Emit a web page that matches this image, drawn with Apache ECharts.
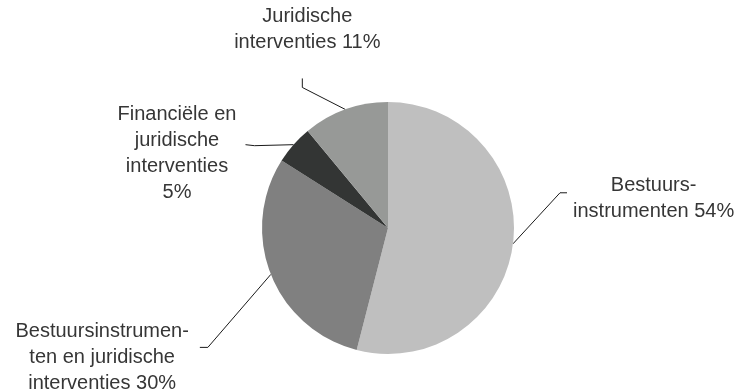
<!DOCTYPE html>
<html><head><meta charset="utf-8">
<script src="https://cdn.jsdelivr.net/npm/echarts@6/dist/echarts.min.js"></script>
<style>html,body{margin:0;padding:0;background:#fff}#c{width:738px;height:390px}</style>
</head><body><div id="c"></div>
<script>
const categories = ['Bestuursinstrumenten', 'Bestuursinstrumenten en juridische interventies', 'Financiële en juridische interventies', 'Juridische interventies'];
const values = [54, 30, 5, 11];
const labelTexts = ['Bestuurs-\ninstrumenten ', 'Bestuursinstrumen-\nten en juridische\ninterventies ', 'Financiële en\njuridische\ninterventies\n', 'Juridische\ninterventies '];
const colors = ['#bfbfbf', '#808080', '#333534', '#979997'];

// leader-line shape, relative to the slice's edge point
const guides = [
  { bend: [47, -51], tail: [7, 0], anchor: 'left', gap: [6, 6] },
  { bend: [-63, 73], tail: [-8, 0], anchor: 'right', gap: [-11, 10] },
  { bend: [-39, 1], tail: [-9, -1], anchor: 'right', gap: [-9, 8.5] },
  { bend: [-43, -22], tail: [0, -9], anchor: 'top', gap: [5, -23] }
];

const chart = echarts.init(document.getElementById('c'), null, { renderer: 'canvas' });
chart.setOption({
  animation: false,
  backgroundColor: '#ffffff',
  series: [{
    type: 'pie',
    center: [388, 228],
    radius: 126,
    startAngle: 90,
    clockwise: true,
    avoidLabelOverlap: false,
    data: categories.map((c, i) => ({ name: c, value: values[i], itemStyle: { color: colors[i] } })),
    itemStyle: { borderWidth: 0 },
    emphasis: { disabled: true },
    label: {
      show: true,
      position: 'outside',
      fontFamily: 'Liberation Sans',
      fontSize: 20,
      lineHeight: 26,
      color: '#363636',
      formatter: p => labelTexts[p.dataIndex] + p.value + '%'
    },
    labelLine: { show: true, length: 10, length2: 10, lineStyle: { color: '#1a1a1a', width: 1 } },
    labelLayout: function (p) {
      const g = guides[p.dataIndex];
      const p0 = p.labelLinePoints[0];
      const p1 = [p0[0] + g.bend[0], p0[1] + g.bend[1]];
      const p2 = [p1[0] + g.tail[0], p1[1] + g.tail[1]];
      const w = p.labelRect.width, h = p.labelRect.height;
      let x, y;
      if (g.anchor === 'left') { x = p2[0] + g.gap[0] + w / 2; y = p2[1] + g.gap[1]; }
      else if (g.anchor === 'right') { x = p2[0] + g.gap[0] - w / 2; y = p2[1] + g.gap[1]; }
      else { x = p2[0] + g.gap[0]; y = p2[1] + g.gap[1] - h / 2; }
      return { x: x, y: y, align: 'center', verticalAlign: 'middle', labelLinePoints: [p0, p1, p2] };
    }
  }]
});
</script>
</body></html>
